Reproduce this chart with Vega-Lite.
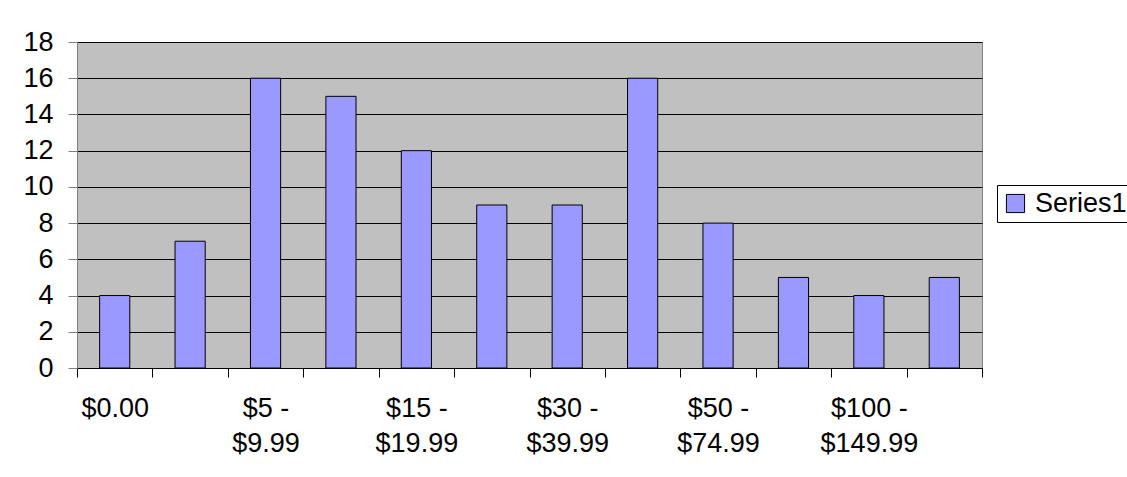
{
  "$schema": "https://vega.github.io/schema/vega-lite/v6.json",
  "autosize": "none",
  "width": 905,
  "height": 326,
  "padding": {"left": 77, "top": 42, "right": 145, "bottom": 109},
  "background": "white",
  "data": {
    "values": [
      {"range": "$0.00", "count": 4, "series": "Series1"},
      {"range": "$0.01 - $4.99", "count": 7, "series": "Series1"},
      {"range": "$5 - $9.99", "count": 16, "series": "Series1"},
      {"range": "$10 - $14.99", "count": 15, "series": "Series1"},
      {"range": "$15 - $19.99", "count": 12, "series": "Series1"},
      {"range": "$20 - $29.99", "count": 9, "series": "Series1"},
      {"range": "$30 - $39.99", "count": 9, "series": "Series1"},
      {"range": "$40 - $49.99", "count": 16, "series": "Series1"},
      {"range": "$50 - $74.99", "count": 8, "series": "Series1"},
      {"range": "$75 - $99.99", "count": 5, "series": "Series1"},
      {"range": "$100 - $149.99", "count": 4, "series": "Series1"},
      {"range": "$150+", "count": 5, "series": "Series1"}
    ]
  },
  "mark": {"type": "bar", "stroke": "black", "strokeWidth": 1, "width": {"band": 0.4}},
  "encoding": {
    "x": {
      "field": "range",
      "type": "nominal",
      "sort": null,
      "title": null,
      "scale": {"paddingInner": 0, "paddingOuter": 0},
      "axis": {
        "labelAngle": 0,
        "tickBand": "extent",
        "tickSize": 9,
        "tickColor": "black",
        "domainColor": "black",
        "labelBaseline": "top",
        "labelPadding": 18,
        "labelLineHeight": 35,
        "labelExpr": "indexof(['$0.00','$5 - $9.99','$15 - $19.99','$30 - $39.99','$50 - $74.99','$100 - $149.99'], datum.label) >= 0 ? split(replace(datum.label, ' - ', ' -|'), '|') : ''"
      }
    },
    "y": {
      "field": "count",
      "type": "quantitative",
      "title": null,
      "scale": {"domain": [0, 18], "nice": false},
      "axis": {
        "values": [0, 2, 4, 6, 8, 10, 12, 14, 16, 18],
        "tickSize": 9,
        "tickColor": "#808080",
        "domainColor": "#808080",
        "labelPadding": 15,
        "grid": true,
        "gridColor": "black",
        "gridOpacity": 1
      }
    },
    "color": {
      "field": "series",
      "type": "nominal",
      "title": null,
      "scale": {"range": ["#9999FF"]},
      "legend": {
        "orient": "none",
        "legendX": 920,
        "legendY": 143,
        "symbolType": "square",
        "symbolSize": 330,
        "symbolStrokeColor": "black",
        "symbolStrokeWidth": 1,
        "symbolOpacity": 1,
        "strokeColor": "black",
        "fillColor": "white",
        "padding": 5,
        "labelFontSize": 27,
        "labelOffset": 6,
        "labelColor": "black",
        "labelFont": "Liberation Sans"
      }
    }
  },
  "config": {
    "view": {"fill": "#C0C0C0", "stroke": "#808080", "strokeWidth": 1},
    "axis": {
      "labelFont": "Liberation Sans",
      "labelFontSize": 27,
      "labelColor": "black",
      "domainWidth": 1,
      "tickWidth": 1,
      "labelOverlap": false
    }
  }
}
